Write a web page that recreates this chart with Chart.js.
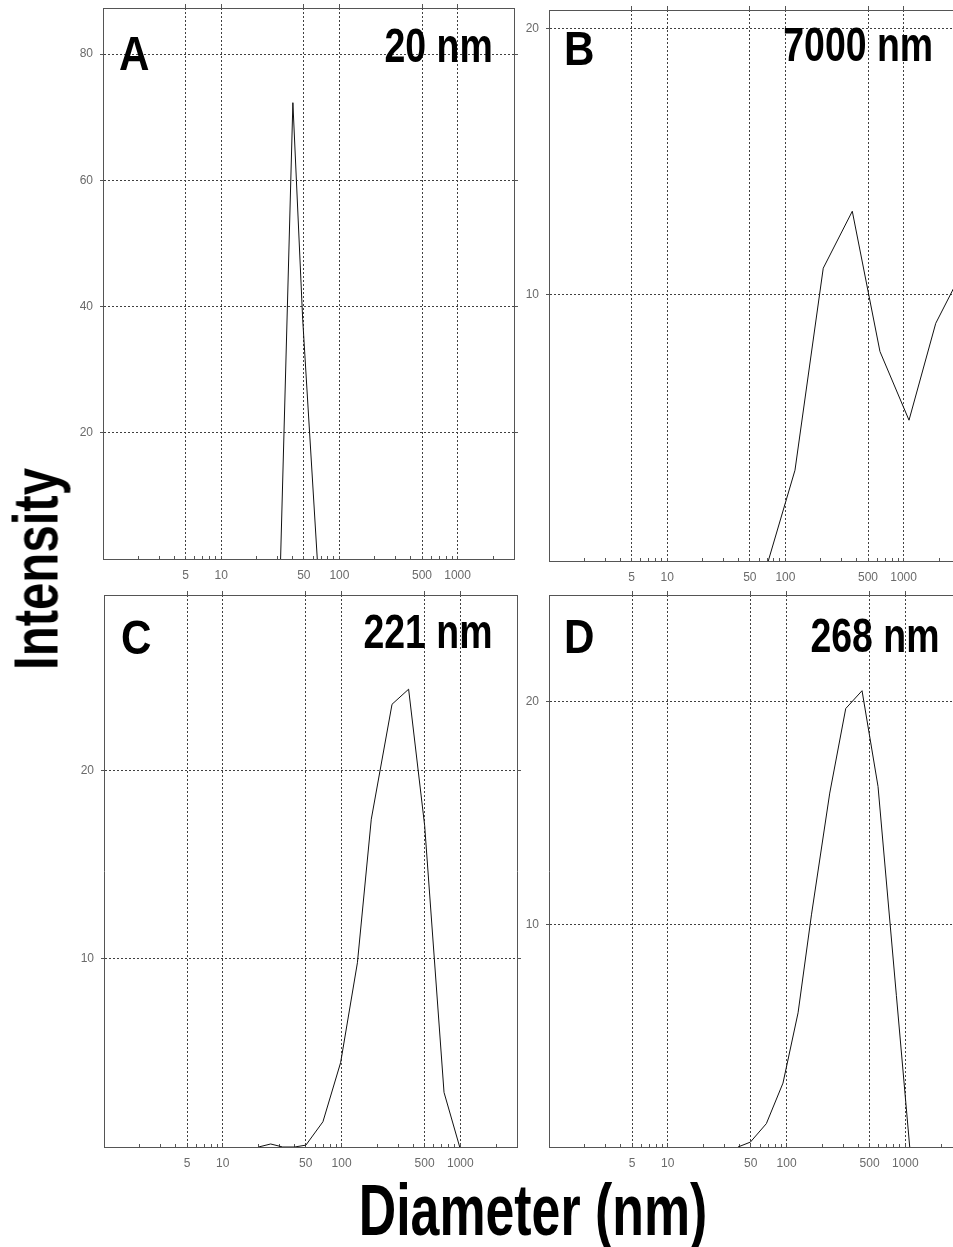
<!DOCTYPE html>
<html>
<head>
<meta charset="utf-8">
<script src="https://cdn.jsdelivr.net/npm/chart.js@4.4.1/dist/chart.umd.min.js"></script>
<style>
  html, body { margin: 0; padding: 0; background: #fff; }
  #page { position: relative; width: 953px; height: 1247px; overflow: hidden; background: #fff;
          font-family: "Liberation Sans", Arial, sans-serif; }
  canvas { position: absolute; }
  .big { position: absolute; font-weight: bold; color: #000; line-height: 1; white-space: nowrap; }
</style>
</head>
<body>
<div id="page">
  <canvas id="chartA" width="455" height="580" style="left:63px;top:4px"></canvas>
  <canvas id="chartB" width="455" height="580" style="left:509px;top:6px"></canvas>
  <canvas id="chartC" width="457" height="581" style="left:64px;top:591px"></canvas>
  <canvas id="chartD" width="457" height="581" style="left:509px;top:591px"></canvas>
</div>
<script>
// DLS size distributions
const diamA = [31.8, 40.4, 48.9, 65];
const intA  = [0, 72.3, 38, 0];

const diamB = [71.6, 120.5, 209, 368, 631, 1111, 1870, 3236];
const intB  = [0, 3.41, 11.0, 13.14, 7.87, 5.29, 8.93, 11.0];

const diamC = [20, 25.3, 32, 40.3, 50.1, 69.7, 98.2, 136, 178, 266, 367, 501, 729, 988];
const intC  = [0, 0.16, 0, 0, 0.1, 1.34, 4.48, 9.78, 17.4, 23.5, 24.3, 17.05, 2.9, 0];

const diamD = [39, 49.6, 67.6, 93.3, 125, 162, 231, 315, 432, 589, 841, 1089];
const intD  = [0, 0.22, 1.05, 2.87, 6.03, 10.43, 15.9, 19.7, 20.5, 16.2, 6.8, 0];

// axis ticks
const xMajor = [5, 10, 50, 100, 500, 1000];
const xMinorSteps = [2, 3, 4, 5, 6, 7, 8, 9];
const xDecades = [1, 10, 100, 1000];
const yTicksA = [20, 40, 60, 80];
const yTicksBCD = [10, 20];

// panel texts
const panelLetters = ['A', 'B', 'C', 'D'];
const panelSizes = ['20 nm', '7000 nm', '221 nm', '268 nm'];
const yTitle = 'Intensity';
const xTitle = 'Diameter (nm)';

const FONT = '"Liberation Sans", Arial, sans-serif';
const xTickValues = [];
xDecades.forEach(d => xMinorSteps.forEach(m => { if (d * m < 3000) xTickValues.push(d * m); }));
xTickValues.push(10, 100, 1000);
xTickValues.sort((a, b) => a - b);

function isMajor(v) { return xMajor.includes(v); }

// fixed axis sizes so every plot frame lands where it is in the figure
function fixSize(prop, px) {
    return s => {
        s[prop] = px;
        s.paddingTop = 0; s.paddingBottom = 0;
        s.paddingLeft = 0; s.paddingRight = 0;
    };
}

function buildPanel(id, sizes, values, yMax, yTicks) {
    return new Chart(document.getElementById(id), {
        type: 'line',
        data: {
            datasets: [{
                data: sizes.map((d, i) => ({ x: d, y: values[i] })),
                borderColor: '#111',
                borderWidth: 1,
                pointRadius: 0,
                tension: 0,
                fill: false
            }]
        },
        options: {
            responsive: false,
            animation: false,
            events: [],
            plugins: { legend: { display: false }, tooltip: { enabled: false } },
            layout: { padding: 0 },
            scales: {
                x: {
                    type: 'logarithmic', position: 'bottom', min: 1, max: 3000,
                    afterBuildTicks: s => { s.ticks = xTickValues.map(v => ({ value: v })); },
                    afterFit: fixSize('height', 25),
                    ticks: {
                        autoSkip: false, maxRotation: 0, padding: 12, color: '#6a6a6a',
                        font: { family: FONT, size: 12 },
                        callback: v => isMajor(v) ? String(v) : ''
                    },
                    grid: {
                        color: c => (c.tick && isMajor(c.tick.value)) ? '#404040' : 'rgba(0,0,0,0)',
                        lineWidth: 1, tickLength: -3, tickColor: '#555'
                    },
                    border: { display: true, color: '#555', width: 1, dash: [2, 2] }
                },
                x2: {
                    type: 'logarithmic', position: 'top', min: 1, max: 3000,
                    afterBuildTicks: s => { s.ticks = xMajor.map(v => ({ value: v })); },
                    afterFit: fixSize('height', 4),
                    ticks: { display: false },
                    grid: { drawOnChartArea: false, tickLength: 4, color: '#555' },
                    border: { display: true, color: '#555', width: 1 }
                },
                y: {
                    type: 'linear', position: 'left', min: 0, max: yMax,
                    afterBuildTicks: s => { s.ticks = yTicks.map(v => ({ value: v })); },
                    afterFit: fixSize('width', 40),
                    ticks: { padding: 7, color: '#6a6a6a', font: { family: FONT, size: 12 }, callback: v => String(v) },
                    grid: { color: '#404040', lineWidth: 1, tickLength: 3, tickColor: '#555' },
                    border: { display: true, color: '#555', width: 1, dash: [2, 2] }
                },
                y2: {
                    type: 'linear', position: 'right', min: 0, max: yMax,
                    afterBuildTicks: s => { s.ticks = yTicks.map(v => ({ value: v })); },
                    afterFit: fixSize('width', 4),
                    ticks: { display: false },
                    grid: { drawOnChartArea: false, tickLength: 4, color: '#555' },
                    border: { display: true, color: '#555', width: 1 }
                }
            }
        }
    });
}

buildPanel('chartA', diamA, intA, 87.3, yTicksA);
buildPanel('chartB', diamB, intB, 20.7, yTicksBCD);
buildPanel('chartC', diamC, intC, 29.3, yTicksBCD);
buildPanel('chartD', diamD, intD, 24.8, yTicksBCD);

// big bold labels, placed by baseline (Liberation Sans baseline = 0.8464em at line-height 1)
const page = document.getElementById('page');
function addText(text, x, baseline, size, sx, anchor) {
    const el = document.createElement('div');
    el.className = 'big';
    el.textContent = text;
    el.style.fontSize = size + 'px';
    el.style.top = (baseline - 0.8464 * size) + 'px';
    if (anchor === 'left') {
        el.style.left = x + 'px';
        el.style.transformOrigin = 'left';
        el.style.transform = `scaleX(${sx})`;
    } else if (anchor === 'right') {
        el.style.right = (953 - x) + 'px';
        el.style.transformOrigin = 'right';
        el.style.transform = `scaleX(${sx})`;
    } else {
        el.style.left = x + 'px';
        el.style.transform = `translateX(-50%) scaleX(${sx})`;
    }
    page.appendChild(el);
}

const letterPos = [[119, 70], [564, 65.5], [121, 654], [564, 653.5]];
const sizePos = [[492.5, 63], [933.5, 61.5], [492.5, 649], [939.5, 652.5]];
panelLetters.forEach((t, i) => addText(t, letterPos[i][0], letterPos[i][1], 49, 0.86, 'left'));
panelSizes.forEach((t, i) => addText(t, sizePos[i][0], sizePos[i][1], 48, 0.78, 'right'));

addText(xTitle, 532.5, 1235, 72, 0.72, 'center');

const yt = document.createElement('div');
yt.className = 'big';
yt.textContent = yTitle;
yt.style.fontSize = '63px';
yt.style.left = '36.2px';
yt.style.top = '569px';
yt.style.transform = 'translate(-50%, -50%) rotate(-90deg) scaleX(0.78)';
page.appendChild(yt);
</script>
</body>
</html>
